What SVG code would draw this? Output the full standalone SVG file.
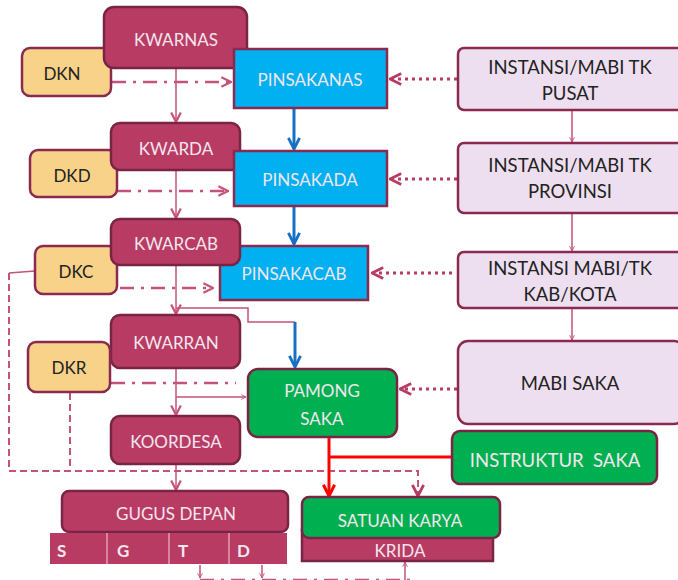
<svg xmlns="http://www.w3.org/2000/svg" width="678" height="580" viewBox="0 0 678 580">
<defs>
<style>
.cr{fill:#b83b64;stroke:#7a2445;stroke-width:2.5}
.dk{fill:#f9d28a;stroke:#8a2a4f;stroke-width:2.5}
.bl{fill:#00b0f0;stroke:#8a2a4f;stroke-width:2.5}
.lv{fill:#eedff0;stroke:#8a2a4f;stroke-width:2.5}
.gr{fill:#00b050;stroke:#7a2445;stroke-width:2.5}
text{font-family:Lato,"Open Sans","Liberation Sans",sans-serif;font-size:17px;text-anchor:middle;dominant-baseline:central}
.w{fill:#f4e6ee}
.d{fill:#222}
.lg{font-size:18.5px}
.thin{stroke:#c4527c;stroke-width:1.5;fill:none}
.dd{stroke:#c4527c;stroke-width:2.5;fill:none;stroke-dasharray:14 7 3 7}
.dot{stroke:#b83b64;stroke-width:3;fill:none;stroke-dasharray:3 4}
.dash{stroke:#c4527c;stroke-width:2;fill:none;stroke-dasharray:7 4}
.blue{stroke:#1670c4;stroke-width:3;fill:none}
.red{stroke:#ff0000;stroke-width:3;fill:none}
</style>
<marker id="ap" viewBox="0 0 10 10" refX="9" refY="5" markerWidth="6" markerHeight="6" orient="auto" markerUnits="userSpaceOnUse"><path d="M1,1 L9,5 L1,9" fill="none" stroke="#c4527c" stroke-width="1.5"/></marker>
<marker id="ap2" viewBox="0 0 10 10" refX="9" refY="5" markerWidth="12" markerHeight="12" orient="auto" markerUnits="userSpaceOnUse"><path d="M1,1 L9,5 L1,9" fill="none" stroke="#c4527c" stroke-width="1.8"/></marker>
<marker id="ab" viewBox="0 0 10 10" refX="9" refY="5" markerWidth="14" markerHeight="14" orient="auto" markerUnits="userSpaceOnUse"><path d="M1,1 L9,5 L1,9" fill="none" stroke="#1670c4" stroke-width="2"/></marker>
<marker id="ar" viewBox="0 0 10 10" refX="9" refY="5" markerWidth="14" markerHeight="14" orient="auto" markerUnits="userSpaceOnUse"><path d="M1,1 L9,5 L1,9" fill="none" stroke="#ff0000" stroke-width="2.2"/></marker>
<marker id="ad" viewBox="0 0 10 10" refX="9" refY="5" markerWidth="14" markerHeight="14" orient="auto" markerUnits="userSpaceOnUse"><path d="M1,1 L9,5 L1,9" fill="none" stroke="#b83b64" stroke-width="2"/></marker>
</defs>
<rect width="678" height="580" fill="#fff"/>

<g id="connectors">
<line class="thin" x1="176" y1="68" x2="176" y2="122" marker-end="url(#ap2)"/>
<line class="thin" x1="176" y1="170" x2="176" y2="218" marker-end="url(#ap2)"/>
<line class="thin" x1="176" y1="265" x2="176" y2="314" marker-end="url(#ap2)"/>
<line class="thin" x1="176" y1="368" x2="176" y2="415" marker-end="url(#ap2)"/>
<line class="thin" x1="176" y1="464" x2="176" y2="490" marker-end="url(#ap2)"/>
<line class="thin" x1="572" y1="110" x2="572" y2="142" marker-end="url(#ap)"/>
<line class="thin" x1="572" y1="213" x2="572" y2="251" marker-end="url(#ap)"/>
<line class="thin" x1="572" y1="308" x2="572" y2="340" marker-end="url(#ap)"/>
<line class="dd" x1="112" y1="82" x2="231" y2="82" marker-end="url(#ap2)"/>
<line class="dd" x1="117" y1="191" x2="228" y2="191" marker-end="url(#ap2)"/>
<line class="dd" x1="120" y1="288" x2="213" y2="288" marker-end="url(#ap2)"/>
<line class="dd" x1="111" y1="383" x2="236" y2="383"/>
<line class="thin" x1="176" y1="397" x2="246" y2="397" marker-end="url(#ap)"/>
<line class="dot" x1="457" y1="79" x2="390" y2="79" marker-end="url(#ad)"/>
<line class="dot" x1="457" y1="179" x2="390" y2="179" marker-end="url(#ad)"/>
<line class="dot" x1="452" y1="273" x2="372" y2="273" marker-end="url(#ad)"/>
<line class="dot" x1="457" y1="389" x2="400" y2="389" marker-end="url(#ad)"/>
<line class="blue" x1="294" y1="109" x2="294" y2="149" marker-end="url(#ab)"/>
<line class="blue" x1="294" y1="207" x2="294" y2="244" marker-end="url(#ab)"/>
<polyline class="thin" points="176,308 248,308 248,322 295,322"/>
<line class="blue" x1="295" y1="322" x2="295" y2="367" marker-end="url(#ab)"/>
<polyline class="thin" points="35,271 9,273"/>
<polyline class="dash" points="9,273 9,471 418,471 418,496" marker-end="url(#ad)"/>
<line class="dash" x1="70" y1="393" x2="70" y2="471"/>
<line class="red" x1="329" y1="438" x2="329" y2="496" marker-end="url(#ar)"/>
<line class="red" x1="329" y1="457" x2="452" y2="457"/>
<line class="thin" x1="200" y1="565" x2="200" y2="578" marker-end="url(#ap)"/>
<line class="thin" x1="262" y1="565" x2="262" y2="578" marker-end="url(#ap)"/>
<line class="thin" x1="405" y1="580" x2="405" y2="562" marker-end="url(#ap)"/>
<line class="dd" x1="200" y1="580" x2="410" y2="580"/>
</g>

<g id="dkn"><rect class="dk" x="22" y="48" width="89" height="48" rx="8"/><text class="d" x="62" y="73">DKN</text></g>
<g id="kwarnas"><rect class="cr" x="104" y="7" width="143" height="61" rx="10"/><text class="w" x="176" y="39">KWARNAS</text></g>
<g id="pinsakanas"><rect class="bl" x="234" y="49" width="153" height="59"/><text class="w" x="310" y="79">PINSAKANAS</text></g>
<g id="instansi-pusat"><rect class="lv" x="458" y="48" width="226" height="62" rx="6"/><text class="d lg" x="570" y="67">INSTANSI/MABI TK</text><text class="d lg" x="570" y="93">PUSAT</text></g>

<g id="dkd"><rect class="dk" x="30" y="150" width="87" height="47" rx="8"/><text class="d" x="72" y="175">DKD</text></g>
<g id="kwarda"><rect class="cr" x="111" y="123" width="129" height="47" rx="9"/><text class="w" x="176" y="148">KWARDA</text></g>
<g id="pinsakada"><rect class="bl" x="234" y="151" width="153" height="55"/><text class="w" x="310" y="179">PINSAKADA</text></g>
<g id="instansi-provinsi"><rect class="lv" x="458" y="143" width="226" height="70" rx="6"/><text class="d lg" x="570" y="165">INSTANSI/MABI TK</text><text class="d lg" x="570" y="191">PROVINSI</text></g>

<g id="pinsakacab"><rect class="bl" x="220" y="246" width="148" height="54"/><text class="w" x="294" y="273">PINSAKACAB</text></g>
<g id="dkc"><rect class="dk" x="35" y="246" width="82" height="48" rx="8"/><text class="d" x="76" y="271">DKC</text></g>
<g id="kwarcab"><rect class="cr" x="111" y="219" width="129" height="46" rx="9"/><text class="w" x="176" y="243">KWARCAB</text></g>
<g id="instansi-kab"><rect class="lv" x="458" y="252" width="226" height="56" rx="6"/><text class="d lg" x="570" y="268">INSTANSI MABI/TK</text><text class="d lg" x="570" y="294">KAB/KOTA</text></g>

<g id="kwarran"><rect class="cr" x="111" y="315" width="129" height="53" rx="9"/><text class="w" x="176" y="342">KWARRAN</text></g>
<g id="dkr"><rect class="dk" x="28" y="342" width="82" height="50" rx="8"/><text class="d" x="69" y="367">DKR</text></g>
<g id="pamong"><rect class="gr" x="248" y="369" width="149" height="68" rx="10"/><text class="w" x="322" y="390">PAMONG</text><text class="w" x="322" y="418">SAKA</text></g>
<g id="mabi-saka"><rect class="lv" x="458" y="341" width="226" height="83" rx="10"/><text class="d lg" x="570" y="383">MABI SAKA</text></g>

<g id="koordesa"><rect class="cr" x="111" y="416" width="129" height="48" rx="9"/><text class="w" x="176" y="441">KOORDESA</text></g>
<g id="instruktur"><rect class="gr" x="452" y="431" width="205" height="53" rx="8"/><text class="w lg" x="555" y="460" xml:space="preserve">INSTRUKTUR  SAKA</text></g>

<g id="gugus-depan">
<rect class="cr" x="62" y="491" width="226" height="41" rx="7"/>
<text class="w" x="176" y="513">GUGUS DEPAN</text>
<rect x="50" y="533" width="237" height="31" fill="#b83b64"/>
<g stroke="#e8b8c8" stroke-width="1.2"><line x1="107" y1="533" x2="107" y2="564"/><line x1="169" y1="533" x2="169" y2="564"/><line x1="229" y1="533" x2="229" y2="564"/></g>
<g style="font-weight:bold;font-size:18px"><text class="w" x="57" y="550" text-anchor="start" style="text-anchor:start">S</text><text class="w" x="117" y="550" style="text-anchor:start">G</text><text class="w" x="178" y="550" style="text-anchor:start">T</text><text class="w" x="237" y="550" style="text-anchor:start">D</text></g>
</g>
<g id="satuan-karya">
<rect class="cr" x="302" y="530" width="191" height="31"/>
<rect class="gr" x="302" y="497" width="198" height="41" rx="7"/>
<text class="w" x="400" y="520">SATUAN KARYA</text>
<text class="w" x="400" y="550">KRIDA</text>
</g>
</svg>
